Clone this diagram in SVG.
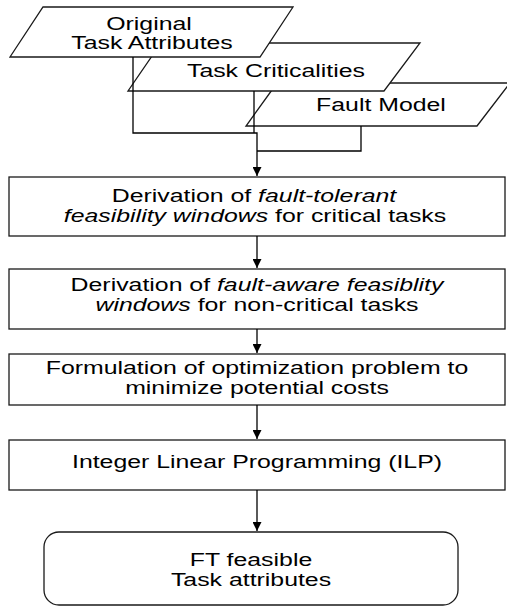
<svg xmlns="http://www.w3.org/2000/svg" width="507" height="607" viewBox="0 0 507 607">
<defs>
<style>
.s{fill:#fff;stroke:#1a1a1a;stroke-width:1.3}
.t{font-family:"Liberation Sans",Arial,sans-serif;font-size:17.5px;fill:#000;text-anchor:middle}
.i{font-style:italic}
.c{fill:none;stroke:#000;stroke-width:1.3}
</style>
<marker id="ah" markerWidth="10" markerHeight="9" refX="9" refY="4.5" orient="auto" markerUnits="userSpaceOnUse">
<path d="M0,0 L9,4.5 L0,9 Z" fill="#000"/>
</marker>
</defs>
<rect width="507" height="607" fill="#fff"/>
<g id="fault-model">
<polygon class="s" points="277,83 510,83 477,126 246,126"/>
<text class="t" transform="translate(381,111) scale(1.42,1)">Fault Model</text>
</g>
<g id="task-criticalities">
<polygon class="s" points="161,43 420,43 384,91 128,91"/>
<text class="t" transform="translate(276,77) scale(1.42,1)">Task Criticalities</text>
</g>
<g id="original-task-attributes">
<polygon class="s" points="43,7 293,7 260,57 10,57"/>
<text class="t" transform="translate(149,30) scale(1.42,1)">Original</text>
<text class="t" transform="translate(152,49) scale(1.42,1)">Task Attributes</text>
</g>
<g id="ft-windows">
<rect class="s" x="9" y="177" width="496" height="59"/>
<text class="t" transform="translate(254,202) scale(1.42,1)">Derivation of <tspan class="i">fault-tolerant</tspan></text>
<text class="t" transform="translate(255,222) scale(1.42,1)"><tspan class="i">feasibility windows</tspan> for critical tasks</text>
</g>
<g id="fa-windows">
<rect class="s" x="9" y="269" width="496" height="60"/>
<text class="t" transform="translate(257,291) scale(1.42,1)">Derivation of <tspan class="i">fault-aware feasiblity</tspan></text>
<text class="t" transform="translate(257,311) scale(1.42,1)"><tspan class="i">windows</tspan> for non-critical tasks</text>
</g>
<g id="formulation">
<rect class="s" x="9" y="354" width="496" height="51"/>
<text class="t" transform="translate(257,374) scale(1.42,1)">Formulation of optimization problem to</text>
<text class="t" transform="translate(257,394) scale(1.42,1)">minimize potential costs</text>
</g>
<g id="ilp">
<rect class="s" x="9" y="440" width="496" height="50"/>
<text class="t" transform="translate(257,468) scale(1.42,1)">Integer Linear Programming (ILP)</text>
</g>
<g id="result">
<rect class="s" x="44" y="532" width="414" height="73" rx="15" ry="15"/>
<text class="t" transform="translate(251,566) scale(1.42,1)">FT feasible</text>
<text class="t" transform="translate(251,586) scale(1.42,1)">Task attributes</text>
</g>
<g id="connectors">
<path class="c" d="M133,57 V133 H257 V176" marker-end="url(#ah)"/>
<path class="c" d="M254,91 V133"/>
<path class="c" d="M361,126 V151 H257"/>
<path class="c" d="M257,236 V268" marker-end="url(#ah)"/>
<path class="c" d="M257,329 V353" marker-end="url(#ah)"/>
<path class="c" d="M257,405 V439" marker-end="url(#ah)"/>
<path class="c" d="M257,490 V531" marker-end="url(#ah)"/>
</g>
</svg>
